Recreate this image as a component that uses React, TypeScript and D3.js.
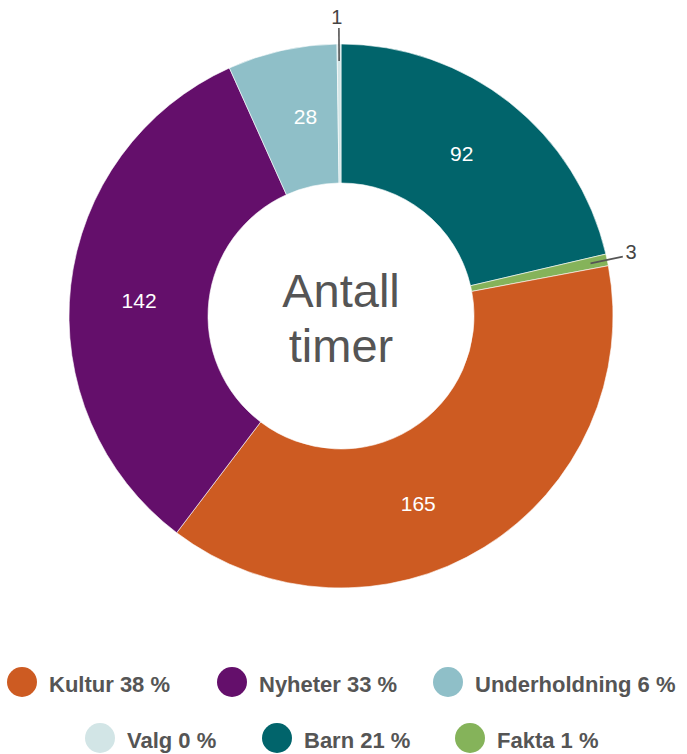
import React from "react";
import * as d3 from "d3";

const categories = ["Barn", "Fakta", "Kultur", "Nyheter", "Underholdning", "Valg"];
const values = [92, 3, 165, 142, 28, 1];
const colors = ["#01646b", "#85b35a", "#cd5b22", "#640f6b", "#8fbfc8", "#d2e5e6"];
const outsideLabels = ["Valg", "Fakta"];
const legendOrder = [["Kultur", "Nyheter", "Underholdning"], ["Valg", "Barn", "Fakta"]];
const centerTitle = ["Antall", "timer"];

const W = 687, H = 754;
const cx = 341, cy = 316, R = 272, r0 = 133;
const legendCx = [[22, 232, 448], [100, 277, 470]];
const legendCy = [682, 738];
// small angular nudges (degrees) for inner label placement
const labelNudge = [-1.8, 0, 9.3, -2, 2.4, 0];

export default function App() {
  const total = d3.sum(values);
  const pie = d3.pie<number>().sort(null).value((d) => d)(values);
  const arc = d3.arc<d3.PieArcDatum<number>>().innerRadius(r0).outerRadius(R);
  const color = (name: string) => colors[categories.indexOf(name)];
  const pct = (name: string) => Math.round((values[categories.indexOf(name)] / total) * 100);
  const labelR = (R + r0) / 2;

  return (
    <svg width={W} height={H} style={{ position: "absolute", left: 0, top: 0, fontFamily: "'Liberation Sans', Arial, sans-serif" }}>
      <g transform={`translate(${cx},${cy})`}>
        {pie.map((p, i) => (
          <path key={i} d={arc(p) || ""} fill={colors[i]} stroke="#fff" strokeWidth={0.6} />
        ))}
        {pie.map((p, i) => {
          const name = categories[i];
          const mid = (p.startAngle + p.endAngle) / 2;
          if (outsideLabels.includes(name)) {
            const a1 = 255, a2 = 288, a3 = 300;
            const sx = Math.sin(mid), sy = -Math.cos(mid);
            const x1 = a1 * sx, y1 = a1 * sy;
            const x2 = a2 * sx, y2 = a2 * sy;
            const tx = a3 * sx, ty = a3 * sy;
            const isTop = Math.abs(sx) < 0.2;
            return (
              <g key={"o" + i}>
                <line x1={x1} y1={y1} x2={x2} y2={y2} stroke="#555" strokeWidth={1.6} />
                <text
                  x={isTop ? tx - 2 : tx - 9}
                  y={isTop ? ty + 1 : ty - 2}
                  textAnchor={isTop ? "middle" : "start"}
                  dominantBaseline="central"
                  fontSize={20}
                  fill="#444"
                >
                  {values[i]}
                </text>
              </g>
            );
          }
          const a = mid + (labelNudge[i] * Math.PI) / 180;
          const lx = labelR * Math.sin(a), ly = -labelR * Math.cos(a);
          return (
            <text key={"l" + i} x={lx} y={ly} textAnchor="middle" dominantBaseline="central" fontSize={21} fill="#fff">
              {values[i]}
            </text>
          );
        })}
        <text textAnchor="middle" fill="#555" fontSize={47}>
          <tspan x={0} y={-9}>{centerTitle[0]}</tspan>
          <tspan x={0} y={46}>{centerTitle[1]}</tspan>
        </text>
      </g>
      {legendOrder.map((row, ri) =>
        row.map((name, ii) => (
          <g key={name} transform={`translate(${legendCx[ri][ii]},${legendCy[ri]})`}>
            <circle r={15} fill={color(name)} />
            <text x={27} y={10} fontSize={22} fontWeight="bold" fill="#555">
              {`${name} ${pct(name)} %`}
            </text>
          </g>
        ))
      )}
    </svg>
  );
}
